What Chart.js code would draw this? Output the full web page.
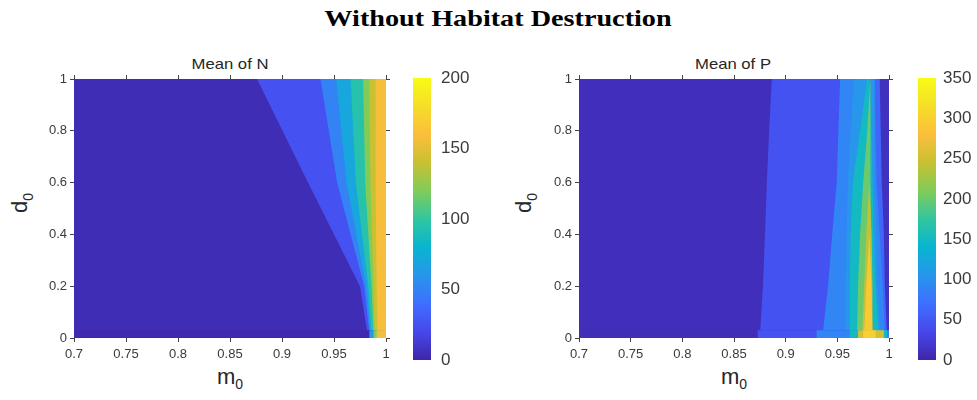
<!DOCTYPE html>
<html>
<head>
<meta charset="utf-8">
<script src="https://cdn.jsdelivr.net/npm/chart.js@4.4.1/dist/chart.umd.min.js"></script>
<style>
  body { margin: 0; background: #fff; width: 977px; height: 400px; position: relative; overflow: hidden; font-family: "Liberation Sans", Arial, sans-serif; color: #262626; }
  canvas { position: absolute; }
  #title { position: absolute; left: 498px; top: 7px; font: bold 23.5px/1 "Liberation Serif", serif; color: #000; transform: translateX(-50%) scaleX(1.2); white-space: nowrap; }
  .sub { position: absolute; top: 57px; font-size: 14.5px; line-height: 1; transform: translateX(-50%) scaleX(1.15); white-space: nowrap; }
  .xlab { position: absolute; top: 366px; font-size: 22px; line-height: 1; }
  .xlab sub, .ylab sub { font-size: 14px; }
  .ylab { position: absolute; font-size: 22px; line-height: 1; transform: translate(-50%, -50%) rotate(-90deg); white-space: nowrap; }
</style>
</head>
<body>
<div id="title">Without Habitat Destruction</div>
<div class="sub" style="left:230px">Mean of N</div>
<div class="sub" style="left:733px">Mean of P</div>
<div class="xlab" style="left:217px">m<sub>0</sub></div>
<div class="xlab" style="left:721px">m<sub>0</sub></div>
<div class="ylab" style="left:22px; top:203px">d<sub>0</sub></div>
<div class="ylab" style="left:526px; top:203px">d<sub>0</sub></div>

<canvas id="mapN" width="362" height="305" style="left:30px; top:73px"></canvas>
<canvas id="barN" width="72" height="306" style="left:413px; top:66px"></canvas>
<canvas id="barP" width="59" height="306" style="left:918px; top:66px"></canvas>
<canvas id="mapP" width="360" height="305" style="left:535px; top:73px"></canvas>

<script>
// ticks
const m0Ticks = [0.7, 0.75, 0.8, 0.85, 0.9, 0.95, 1];
const d0Ticks = [0, 0.2, 0.4, 0.6, 0.8, 1];
const nBarTicks = [0, 50, 100, 150, 200];
const pBarTicks = [0, 50, 100, 150, 200, 250, 300, 350];
const nMax = 200;
const pMax = 350;

// d0 rows where the band edges were read; the thin strip at d0 = 0 is read apart
const nRows = [1, 0.6, 0.2, 0.02];
const pRows = [1, 0.8, 0.6, 0.4, 0.2, 0.02];
const stripRows = [0.03, 0];

// Mean of N : value of each band, m0 of its left / right edge on each row
const nMainValues = [4, 25, 50, 70, 95, 120, 140, 158];
const nMainLeft = [
  [0.7, 0.7, 0.7, 0.7],
  [0.876, 0.925, 0.975, 0.982],
  [0.937, 0.953, 0.979, 0.984],
  [0.952, 0.962, 0.981, 0.985],
  [0.966, 0.971, 0.983, 0.986],
  [0.978, 0.980, 0.986, 0.988],
  [0.984, 0.985, 0.988, 0.989],
  [0.990, 0.990, 0.991, 0.992]
];
const nMainRight = nMainLeft.map(() => [1, 1, 1, 1]);
const nStripValues = [2, 60, 120, 156];
const nStripLeft = [[0.7, 0.7], [0.984, 0.984], [0.988, 0.988], [0.991, 0.991]];
const nStripRight = [[1, 1], [1, 1], [1, 1], [1, 1]];

// Mean of P
const pMainValues = [10, 45, 90, 60, 106, 150, 200, 240, 290, 12];
const pMainLeft = [
  [0.7, 0.7, 0.7, 0.7, 0.7, 0.7],
  [0.8866, 0.884, 0.8818, 0.880, 0.878, 0.8753],
  [0.9527, 0.951, 0.9494, 0.945, 0.941, 0.936],
  [0.986, 0.987, 0.988, 0.991, 0.994, 0.996],
  [0.966, 0.963, 0.960, 0.959, 0.958, 0.958],
  [0.979, 0.972, 0.965, 0.963, 0.962, 0.962],
  [0.982, 0.979, 0.975, 0.972, 0.970, 0.969],
  [0.981, 0.981, 0.981, 0.978, 0.976, 0.974],
  [0.981, 0.981, 0.981, 0.981, 0.978, 0.976],
  [0.991, 0.992, 0.993, 0.995, 0.996, 0.998]
];
const pMainRight = [
  [1, 1, 1, 1, 1, 1],
  [1, 1, 1, 1, 1, 1],
  [1, 1, 1, 1, 1, 1],
  [1, 1, 1, 1, 1, 1],
  [0.986, 0.986, 0.986, 0.988, 0.989, 0.992],
  [0.981, 0.983, 0.984, 0.985, 0.987, 0.990],
  [0.982, 0.982, 0.982, 0.983, 0.983, 0.983],
  [0.981, 0.981, 0.981, 0.983, 0.984, 0.984],
  [0.981, 0.981, 0.981, 0.981, 0.983, 0.984],
  [1, 1, 1, 1, 1, 1]
];
const pStripValues = [8, 45, 90, 150, 250, 300];
const pStripLeft = [[0.7, 0.7], [0.873, 0.873], [0.930, 0.930], [0.962, 0.962], [0.970, 0.970], [0.975, 0.975]];
const pStripRight = [[1, 1], [1, 1], [1, 1], [0.998, 0.998], [0.995, 0.995], [0.987, 0.987]];

// parula colour map
const parulaStops = [
  [62, 38, 168], [71, 71, 235], [62, 111, 255], [39, 150, 235], [8, 181, 208],
  [49, 198, 159], [129, 204, 89], [200, 193, 50], [252, 190, 60], [245, 222, 40], [249, 251, 21]
];
function parula(t) {
  t = Math.max(0, Math.min(1, t));
  const f = t * 10, i = Math.min(9, Math.floor(f)), r = f - i;
  const a = parulaStops[i], b = parulaStops[i + 1];
  return 'rgb(' + a.map((c, k) => Math.round(c + (b[k] - c) * r)).join(',') + ')';
}

function bands(rows, values, left, right, max) {
  return values.map((v, i) => {
    const pts = [];
    rows.forEach((d, j) => pts.push({ x: left[i][j], y: d }));
    for (let j = rows.length - 1; j >= 0; j--) pts.push({ x: right[i][j], y: rows[j] });
    pts.push(pts[0]);
    const col = parula(v / max);
    return { data: pts, showLine: true, fill: 'shape', backgroundColor: col, borderColor: col, borderWidth: 0, pointRadius: 0, tension: 0 };
  });
}

const tickFont = { family: "'Liberation Sans', Arial, sans-serif", size: 13 };
const tickColor = '#3a3a3a';

function makeMap(id, datasets) {
  // Chart.js draws the first dataset on top, so reverse the painting order
  return new Chart(document.getElementById(id), {
    type: 'scatter',
    data: { datasets: datasets.slice().reverse() },
    options: {
      responsive: false, animation: false, events: [],
      layout: { padding: 0 },
      plugins: { legend: { display: false }, tooltip: { enabled: false } },
      scales: {
        x: {
          type: 'linear', position: 'bottom', min: 0.7, max: 1,
          afterBuildTicks: s => { s.ticks = m0Ticks.map(v => ({ value: v })); },
          ticks: { callback: v => String(v), font: tickFont, color: tickColor, padding: 5, maxRotation: 0, autoSkip: false },
          grid: { drawOnChartArea: false, tickLength: 4, color: '#444' },
          border: { display: false },
          afterFit: s => { s.height = 40; s.paddingLeft = 0; s.paddingRight = 0; }
        },
        x2: {
          type: 'linear', position: 'top', min: 0.7, max: 1,
          afterBuildTicks: s => { s.ticks = m0Ticks.map(v => ({ value: v })); },
          ticks: { display: false },
          grid: { drawOnChartArea: false, tickLength: 4, color: '#444' },
          border: { display: false },
          afterFit: s => { s.height = 6; s.paddingLeft = 0; s.paddingRight = 0; }
        },
        y: {
          type: 'linear', position: 'left', min: 0, max: 1,
          afterBuildTicks: s => { s.ticks = d0Ticks.map(v => ({ value: v })); },
          ticks: { callback: v => String(v), font: tickFont, color: tickColor, padding: 3, autoSkip: false },
          grid: { drawOnChartArea: false, tickLength: 4, color: '#444' },
          border: { display: false },
          afterFit: s => { s.width = 44; s.paddingTop = 0; s.paddingBottom = 0; }
        },
        y2: {
          type: 'linear', position: 'right', min: 0, max: 1,
          afterBuildTicks: s => { s.ticks = d0Ticks.map(v => ({ value: v })); },
          ticks: { display: false },
          grid: { drawOnChartArea: false, tickLength: 4, color: '#444' },
          border: { display: false },
          afterFit: s => { s.width = 6; s.paddingTop = 0; s.paddingBottom = 0; }
        }
      }
    }
  });
}

function makeBar(id, max, ticks, pad) {
  return new Chart(document.getElementById(id), {
    type: 'bar',
    data: {
      labels: [''],
      datasets: [{
        data: [[0, max]],
        barPercentage: 1, categoryPercentage: 1, borderWidth: 0,
        backgroundColor: function (context) {
          const a = context.chart.chartArea;
          if (!a) return parula(0.5);
          const g = context.chart.ctx.createLinearGradient(0, a.bottom, 0, a.top);
          parulaStops.forEach((c, i) => g.addColorStop(i / 10, 'rgb(' + c.join(',') + ')'));
          return g;
        }
      }]
    },
    options: {
      responsive: false, animation: false, events: [],
      layout: { padding: { top: 12, bottom: 12 } },
      plugins: { legend: { display: false }, tooltip: { enabled: false } },
      scales: {
        x: { display: false },
        y: {
          position: 'right', min: 0, max: max,
          afterBuildTicks: s => { s.ticks = ticks.map(v => ({ value: v })); },
          ticks: { font: { family: "'Liberation Sans', Arial, sans-serif", size: 17 }, color: tickColor, padding: pad },
          grid: { display: false, drawTicks: false },
          border: { display: false },
          afterFit: s => { s.width = s.chart.width - 18; s.paddingTop = 0; s.paddingBottom = 0; }
        }
      }
    }
  });
}

makeMap('mapN', bands(nRows, nMainValues, nMainLeft, nMainRight, nMax)
  .concat(bands(stripRows, nStripValues, nStripLeft, nStripRight, nMax)));
makeMap('mapP', bands(pRows, pMainValues, pMainLeft, pMainRight, pMax)
  .concat(bands(stripRows, pStripValues, pStripLeft, pStripRight, pMax)));
makeBar('barN', nMax, nBarTicks, 10);
makeBar('barP', pMax, pBarTicks, 7);
</script>
</body>
</html>
